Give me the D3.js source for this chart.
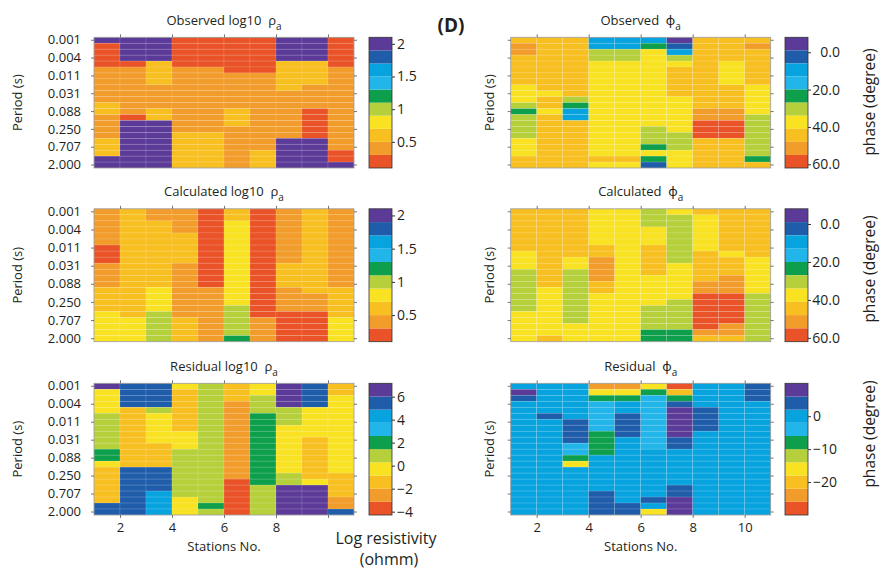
<!DOCTYPE html>
<html>
<head>
<meta charset="utf-8">
<script src="https://cdn.jsdelivr.net/npm/d3@7"></script>
<style>
  body { margin: 0; background: #fff; }
  svg text { font-family: "Open Sans", "Noto Sans", sans-serif; fill: #231f20; }
</style>
</head>
<body>
<svg id="chart" width="884" height="573"></svg>
<script>
// Periods (s), shortest first: one row per half-octave
const periods = [0.00138,0.00195,0.00276,0.0039,0.0055,0.0078,0.011,0.0156,0.0221,0.03125,0.0442,
                 0.0625,0.088,0.125,0.177,0.25,0.354,0.5,0.707,1.0,1.414,2.0];
const periodTicks = [0.00138,0.0039,0.011,0.03125,0.088,0.25,0.707,2.0];
// Each column spans from its station to the next one
const stations = [1,2,3,4,5,6,7,8,9,10];
const stationTicks = [2,4,6,8,10];
const stationLabelsLeft = [2,4,6,8];
const stationLabelsRight = [2,4,6,8,10];

// log10 apparent resistivity, observed (one array per station column, shortest period first)
const obsRho = [
  [2.0,0.2,0.2,0.2,0.2,0.4,0.4,0.4,0.4,0.4,0.4,0.6,0.6,0.4,0.4,0.4,0.4,0.6,0.6,0.6,2.0,2.0],
  [2.0,2.0,2.0,2.0,0.2,0.4,0.4,0.4,0.4,0.4,0.4,0.4,0.4,0.2,2.0,2.0,2.0,2.0,2.0,2.0,2.0,2.0],
  [2.0,2.0,2.0,2.0,0.6,0.6,0.6,0.6,0.4,0.4,0.4,0.4,0.6,0.6,2.0,2.0,2.0,2.0,2.0,2.0,2.0,2.0],
  [0.2,0.2,0.2,0.2,0.2,0.4,0.4,0.4,0.4,0.4,0.4,0.4,0.4,0.4,0.4,0.4,0.6,0.6,0.6,0.6,0.6,0.6],
  [0.2,0.2,0.2,0.2,0.2,0.4,0.4,0.4,0.4,0.4,0.4,0.4,0.4,0.4,0.4,0.4,0.6,0.6,0.6,0.6,0.6,0.6],
  [0.2,0.2,0.2,0.2,0.2,0.2,0.4,0.4,0.4,0.4,0.4,0.4,0.6,0.6,0.6,0.4,0.4,0.4,0.4,0.4,0.4,0.4],
  [0.2,0.2,0.2,0.2,0.2,0.2,0.4,0.4,0.4,0.4,0.4,0.4,0.4,0.4,0.4,0.4,0.4,0.4,0.4,0.6,0.6,0.6],
  [2.0,2.0,2.0,2.0,0.6,0.6,0.6,0.6,0.6,0.4,0.4,0.4,0.4,0.4,0.4,0.4,0.4,2.0,2.0,2.0,2.0,2.0],
  [2.0,2.0,2.0,2.0,0.6,0.6,0.6,0.6,0.4,0.4,0.4,0.4,0.2,0.2,0.2,0.2,0.2,2.0,2.0,2.0,2.0,2.0],
  [0.2,0.2,0.2,0.2,0.2,0.4,0.4,0.4,0.4,0.4,0.4,0.4,0.4,0.4,0.4,0.4,0.4,0.4,0.4,0.2,0.2,2.0]
];
// log10 apparent resistivity, calculated
const calRho = [
  [0.4,0.4,0.4,0.4,0.4,0.4,0.2,0.2,0.2,0.4,0.4,0.4,0.4,0.6,0.6,0.6,0.6,0.8,0.8,0.8,0.8,0.8],
  [0.6,0.6,0.6,0.6,0.6,0.6,0.6,0.6,0.6,0.6,0.6,0.6,0.6,0.6,0.6,0.6,0.6,0.6,0.8,0.8,0.8,0.8],
  [0.4,0.4,0.6,0.6,0.6,0.6,0.6,0.6,0.6,0.6,0.6,0.6,0.6,0.8,0.8,0.8,0.8,1.0,1.0,1.0,1.0,1.0],
  [0.4,0.4,0.4,0.4,0.6,0.6,0.6,0.6,0.6,0.4,0.4,0.4,0.4,0.4,0.4,0.4,0.4,0.4,0.6,0.6,0.6,0.6],
  [0.2,0.2,0.2,0.2,0.2,0.2,0.2,0.2,0.2,0.2,0.2,0.2,0.2,0.4,0.4,0.4,0.4,0.4,0.4,0.4,0.4,0.4],
  [0.6,0.6,0.8,0.8,0.8,0.8,0.8,0.8,0.8,0.8,0.8,0.8,0.8,0.8,0.8,0.8,1.0,1.0,1.0,1.0,1.0,1.2],
  [0.2,0.2,0.2,0.2,0.2,0.2,0.2,0.2,0.2,0.2,0.2,0.2,0.2,0.2,0.2,0.2,0.2,0.2,0.4,0.4,0.4,0.4],
  [0.4,0.4,0.4,0.4,0.4,0.4,0.4,0.4,0.4,0.6,0.6,0.6,0.6,0.4,0.4,0.4,0.4,0.2,0.2,0.2,0.2,0.2],
  [0.6,0.6,0.6,0.6,0.6,0.6,0.6,0.6,0.6,0.6,0.6,0.6,0.6,0.6,0.4,0.4,0.4,0.2,0.2,0.2,0.2,0.2],
  [0.4,0.4,0.4,0.4,0.4,0.4,0.4,0.4,0.4,0.4,0.4,0.4,0.4,0.6,0.6,0.6,0.6,0.6,0.8,0.8,0.8,0.8]
];
// log10 apparent resistivity residual
const resRho = [
  [6.6,-0.3,-0.3,-0.3,-0.3,0.9,0.9,0.9,0.9,0.9,0.9,2.0,2.0,-0.3,-1.4,-1.4,-1.4,-1.4,-1.4,-1.4,5.4,5.4],
  [5.4,5.4,5.4,5.4,-1.4,-1.4,-1.4,-1.4,-1.4,-1.4,-1.4,-1.4,-1.4,-1.4,5.4,5.4,5.4,5.4,5.4,5.4,5.4,5.4],
  [5.4,5.4,5.4,5.4,0.9,-0.3,-0.3,-0.3,-0.3,-0.3,-1.4,-1.4,-1.4,-1.4,5.4,5.4,5.4,5.4,4.3,4.3,4.3,4.3],
  [-0.3,-1.4,-1.4,-1.4,-1.4,-1.4,-1.4,-1.4,-0.3,-0.3,-0.3,0.9,0.9,0.9,0.9,0.9,0.9,0.9,0.9,-0.3,-0.3,-0.3],
  [0.9,0.9,0.9,0.9,0.9,0.9,0.9,0.9,0.9,0.9,0.9,0.9,0.9,0.9,0.9,0.9,0.9,0.9,0.9,0.9,2.0,0.9],
  [-1.4,-1.4,-1.4,-2.6,-2.6,-2.6,-2.6,-2.6,-2.6,-2.6,-2.6,-2.6,-2.6,-2.6,-2.6,-2.6,-3.7,-3.7,-3.7,-3.7,-3.7,-3.7],
  [-0.3,-0.3,0.9,0.9,0.9,2.0,2.0,2.0,2.0,2.0,2.0,2.0,2.0,2.0,2.0,2.0,2.0,0.9,0.9,0.9,0.9,0.9],
  [6.6,6.6,6.6,6.6,0.9,0.9,0.9,-0.3,-0.3,-0.3,-0.3,-0.3,-0.3,-0.3,-0.3,0.9,0.9,6.6,6.6,6.6,6.6,6.6],
  [5.4,5.4,5.4,5.4,-0.3,-0.3,-0.3,-0.3,-0.3,-1.4,-1.4,-1.4,-1.4,-1.4,-1.4,-1.4,-0.3,6.6,6.6,6.6,6.6,6.6],
  [-1.4,-1.4,-0.3,-0.3,-0.3,-0.3,-0.3,-0.3,-0.3,-0.3,-0.3,-0.3,-0.3,-0.3,-0.3,-1.4,-1.4,-1.4,-1.4,-2.6,-2.6,5.4]
];
// Apparent phase (degree), observed
const obsPhase = [
  [45,52,52,45,45,45,45,45,38,38,38,31,24,31,31,31,31,38,38,38,45,45],
  [45,45,45,45,45,45,45,45,45,38,45,45,38,45,45,45,45,45,45,45,45,45],
  [45,45,45,45,45,45,45,45,45,45,31,24,10,10,45,45,45,45,45,45,45,45],
  [10,10,31,31,38,38,38,38,38,38,38,38,38,38,38,38,38,38,38,38,45,38],
  [10,10,31,31,38,38,38,38,38,38,38,38,38,38,38,38,38,38,38,38,45,38],
  [10,24,38,38,38,38,38,38,38,38,38,38,38,38,38,31,31,31,24,38,24,3],
  [-4,3,10,31,38,45,45,45,45,45,38,38,38,38,38,38,31,31,31,38,38,38],
  [45,45,45,45,45,45,45,45,45,45,45,45,52,52,59,59,59,45,45,45,45,45],
  [45,45,45,45,38,38,38,38,45,45,45,45,52,52,59,59,59,45,45,45,45,45],
  [45,52,45,45,45,45,45,45,38,38,38,38,38,31,31,31,31,31,31,31,24,45]
];
// Apparent phase (degree), calculated
const calPhase = [
  [45,45,45,45,45,45,45,38,38,38,31,31,31,31,31,31,31,38,38,38,38,38],
  [45,45,45,45,45,45,45,45,45,45,45,45,45,38,38,38,38,38,38,38,38,45],
  [45,45,45,45,45,45,45,45,38,38,31,31,31,31,31,31,31,31,31,38,38,38],
  [38,38,38,38,38,38,45,45,52,52,52,52,45,45,38,38,38,38,38,38,38,38],
  [38,38,38,38,38,38,38,38,38,38,38,38,38,38,38,38,38,38,38,38,38,38],
  [31,31,31,38,38,38,45,45,45,45,45,38,38,38,38,38,31,31,31,31,24,24],
  [38,31,31,31,31,31,31,31,31,38,38,38,38,38,38,31,31,31,31,31,24,24],
  [45,38,38,38,38,38,38,45,45,45,45,45,52,52,59,59,59,59,59,59,52,45],
  [45,45,45,45,45,45,45,38,45,45,45,52,52,52,59,59,59,59,59,52,52,45],
  [45,45,45,45,45,45,45,45,38,38,38,38,38,38,31,31,31,31,31,31,31,31]
];
// Apparent phase residual (degree)
const resPhase = [
  [0,8,4,0,0,0,0,0,0,0,0,0,0,0,0,0,0,0,0,0,0,0],
  [0,0,0,0,0,4,0,0,0,0,0,0,0,0,0,0,0,0,0,0,0,0],
  [0,0,0,0,0,0,4,4,4,4,-4,-4,-8,-16,0,0,0,0,0,0,0,0],
  [-24,-16,-8,-4,-4,-4,-4,-4,-8,-8,-8,-8,0,0,0,0,0,0,4,4,4,4],
  [-24,-16,-8,0,0,4,4,4,4,0,0,0,0,0,0,0,0,0,0,0,4,4],
  [-16,-8,-4,-4,-4,-4,-4,-4,-4,-4,-4,0,0,0,0,0,0,0,0,4,0,-16],
  [-28,-20,-8,4,8,8,8,8,8,4,4,0,0,0,0,0,0,4,4,8,8,8],
  [0,0,0,0,4,4,4,4,0,0,0,0,0,0,0,0,0,0,0,0,0,0],
  [0,0,0,0,0,0,0,0,0,0,0,0,0,0,0,0,0,0,0,0,0,0],
  [4,4,4,0,0,0,0,0,0,0,0,0,0,0,0,0,0,0,0,0,0,0]
];

// Colour bar ranges and labelled values
const rhoRange = [0.1, 2.1],        rhoTicks = [0.5, 1, 1.5, 2];
const phaseRange = [-8, 62],        phaseTicks = [0, 20, 40, 60];
const resRhoRange = [-4.29, 7.16],  resRhoTicks = [-4, -2, 0, 2, 4, 6];
const resPhaseRange = [-30, 10],    resPhaseTicks = [-20, -10, 0];

// Ten-step palette, listed from the top of each colour bar down
const palette = ["#5c3b98","#1f5caa","#07a3df","#22b5ea","#0d9f4b","#b5d03b","#f8e221","#f8bf21","#f29c2b","#ea5227"];

const svg = d3.select("#chart");
const plotW = 260;
const leftX = 94, rightX = 510.7;
const rowY = [[37.3, 168], [208.8, 341.7], [383.3, 515]];
const cbLeftX = 369, cbRightX = 785, cbW = 23;

// value → colour; topIsHigh: the largest value sits at the top of the bar
function makeColour(range, topIsHigh) {
  return d3.scaleQuantize().domain(range)
    .range(topIsHigh ? palette.slice().reverse() : palette.slice());
}
const rhoColour = makeColour(rhoRange, true);
const phaseColour = makeColour(phaseRange, false);
const resRhoColour = makeColour(resRhoRange, true);
const resPhaseColour = makeColour(resPhaseRange, true);

function drawHeatmap(data, colour, x0, rowIdx, showPeriodLabels) {
  const [y0, y1] = rowY[rowIdx];
  const x = d3.scaleLinear().domain([1, 11]).range([x0, x0 + plotW]);
  const y = d3.scaleBand().domain(periods).range([y0, y1]);
  const g = svg.append("g");

  const cells = data.flatMap((col, i) => col.map((v, j) => ({ s: stations[i], p: periods[j], v })));
  g.selectAll("rect.cell").data(cells).join("rect")
    .attr("class", "cell")
    .attr("x", d => x(d.s))
    .attr("width", d => x(d.s + 1) - x(d.s))
    .attr("y", d => y(d.p))
    .attr("height", y.bandwidth())
    .attr("fill", d => colour(d.v))
    .attr("stroke", "rgba(255,255,255,0.2)")
    .attr("stroke-width", 0.6);

  g.append("rect")
    .attr("x", x0).attr("y", y0).attr("width", plotW).attr("height", y1 - y0)
    .attr("fill", "none").attr("stroke", "#9a9a9a").attr("stroke-width", 0.8);

  const styleAxis = sel => {
    sel.select(".domain").remove();
    sel.selectAll(".tick line").attr("stroke", "#555").attr("stroke-width", 0.8);
    sel.selectAll("text").style("font-size", "13px").attr("fill", "#231f20");
  };

  g.append("g").attr("transform", `translate(${x0},0)`)
    .call(d3.axisLeft(y).tickValues(periodTicks).tickSize(3).tickPadding(10)
      .tickFormat(showPeriodLabels ? d3.format(".3f") : () => ""))
    .call(styleAxis);
  g.append("g").attr("transform", `translate(${x0 + plotW},0)`)
    .call(d3.axisRight(y).tickValues(periodTicks).tickSize(3).tickFormat(() => ""))
    .call(styleAxis);
  g.append("g").attr("transform", `translate(0,${y0})`)
    .call(d3.axisTop(x).tickValues(stationTicks).tickSize(3).tickFormat(() => ""))
    .call(styleAxis);

  return { x, y, g, y0, y1, styleAxis };
}

function drawColourBar(colour, range, topIsHigh, cx, rowIdx, ticks, fmt, labelMode) {
  const [y0, y1] = rowY[rowIdx];
  const cb = d3.scaleLinear().domain(topIsHigh ? [range[1], range[0]] : range).range([y0, y1]);
  const g = svg.append("g");
  g.selectAll("rect.band").data(colour.range()).join("rect")
    .attr("class", "band")
    .attr("x", cx).attr("width", cbW)
    .attr("y", c => d3.min(colour.invertExtent(c).map(cb)))
    .attr("height", c => Math.abs(cb(colour.invertExtent(c)[0]) - cb(colour.invertExtent(c)[1])))
    .attr("fill", c => c);
  g.append("rect").attr("x", cx).attr("y", y0).attr("width", cbW).attr("height", y1 - y0)
    .attr("fill", "none").attr("stroke", "#333").attr("stroke-width", 0.8);
  const ax = g.append("g").attr("transform", `translate(${cx + cbW},0)`)
    .call(d3.axisRight(cb).tickValues(ticks).tickSize(3).tickPadding(labelMode === "end" ? 29 : 2).tickFormat(fmt));
  ax.select(".domain").remove();
  ax.selectAll(".tick line").attr("stroke", "#333");
  ax.selectAll("text").style("font-size", "14px").attr("fill", "#231f20");
  if (labelMode === "end") ax.selectAll("text").attr("text-anchor", "end");
}

function drawTitle(cx, baseline, main, symbol) {
  const t = svg.append("text")
    .attr("x", cx).attr("y", baseline)
    .attr("text-anchor", "middle")
    .style("font-size", "13px").style("white-space", "pre");
  t.append("tspan").text(main + "  " + symbol);
  t.append("tspan").attr("dy", 5).style("font-size", "10px").text("a");
}

function drawPeriodLabel(cx, cy) {
  svg.append("text")
    .attr("transform", `translate(${cx},${cy}) rotate(-90)`)
    .attr("text-anchor", "middle").attr("dy", "0.35em")
    .style("font-size", "13px")
    .text("Period (s)");
}

function drawStationAxis(panel, labels) {
  const ax = panel.g.append("g").attr("transform", `translate(0,${panel.y1})`)
    .call(d3.axisBottom(panel.x).tickValues(stationTicks).tickSize(3).tickPadding(5)
      .tickFormat(d => labels.includes(d) ? d : ""));
  panel.styleAxis(ax);
  const [xa, xb] = panel.x.range();
  svg.append("text").attr("x", (xa + xb) / 2).attr("y", 551)
    .attr("text-anchor", "middle").style("font-size", "13px").text("Stations No.");
}

// Resistivity column
const pObsRho = drawHeatmap(obsRho, rhoColour, leftX, 0, true);
const pCalRho = drawHeatmap(calRho, rhoColour, leftX, 1, true);
const pResRho = drawHeatmap(resRho, resRhoColour, leftX, 2, true);
drawColourBar(rhoColour, rhoRange, true, cbLeftX, 0, rhoTicks, d3.format(""), "start");
drawColourBar(rhoColour, rhoRange, true, cbLeftX, 1, rhoTicks, d3.format(""), "start");
drawColourBar(resRhoColour, resRhoRange, true, cbLeftX, 2, resRhoTicks, d3.format(""), "start");
drawTitle(224, 25, "Observed log10", "ρ");
drawTitle(224, 195.5, "Calculated log10", "ρ");
drawTitle(224, 370.5, "Residual log10", "ρ");
drawStationAxis(pResRho, stationLabelsLeft);
[0, 1, 2].forEach(r => drawPeriodLabel(17, (rowY[r][0] + rowY[r][1]) / 2));

// Phase column
const pObsPh = drawHeatmap(obsPhase, phaseColour, rightX, 0, false);
const pCalPh = drawHeatmap(calPhase, phaseColour, rightX, 1, false);
const pResPh = drawHeatmap(resPhase, resPhaseColour, rightX, 2, false);
drawColourBar(phaseColour, phaseRange, false, cbRightX, 0, phaseTicks, d3.format(".1f"), "end");
drawColourBar(phaseColour, phaseRange, false, cbRightX, 1, phaseTicks, d3.format(".1f"), "end");
drawColourBar(resPhaseColour, resPhaseRange, true, cbRightX, 2, resPhaseTicks, d3.format(""), "start");
drawTitle(640.7, 25, "Observed", "ϕ");
drawTitle(640.7, 195.5, "Calculated", "ϕ");
drawTitle(640.7, 370.5, "Residual", "ϕ");
drawStationAxis(pResPh, stationLabelsRight);
[0, 1, 2].forEach(r => drawPeriodLabel(489, (rowY[r][0] + rowY[r][1]) / 2));

// Colour bar captions
[102, 269, 434].forEach(cy => {
  svg.append("text")
    .attr("transform", `translate(870,${cy}) rotate(-90)`)
    .attr("text-anchor", "middle").attr("dy", "0.35em")
    .style("font-size", "15.5px").text("phase (degree)");
});
svg.append("text").attr("x", 386).attr("y", 544).attr("text-anchor", "middle")
  .style("font-size", "16px").text("Log resistivity");
svg.append("text").attr("x", 389).attr("y", 565).attr("text-anchor", "middle")
  .style("font-size", "16px").text("(ohmm)");

// Panel letter
svg.append("text").attr("x", 451).attr("y", 31.5).attr("text-anchor", "middle")
  .style("font-size", "19px").style("font-weight", "bold").text("(D)");
</script>
</body>
</html>
